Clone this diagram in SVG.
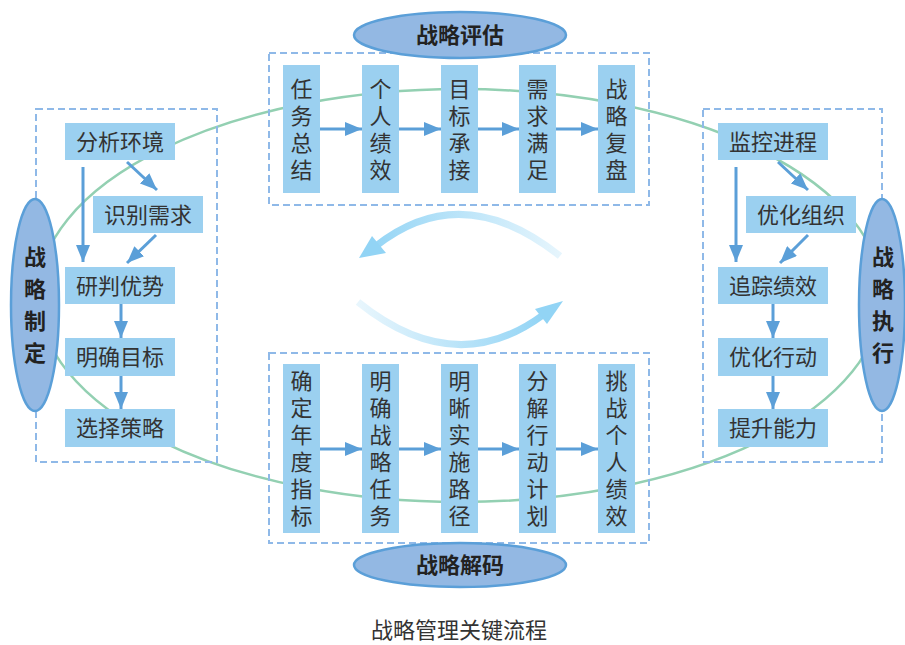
<svg xmlns="http://www.w3.org/2000/svg" width="905" height="645" viewBox="0 0 905 645">
<defs>
<marker id="ah" markerUnits="userSpaceOnUse" markerWidth="18" markerHeight="14" refX="17" refY="7" orient="auto">
<path d="M0,0 L17,7 L0,14 z" fill="#5b9fd8"/>
</marker>
<linearGradient id="gUp" gradientUnits="userSpaceOnUse" x1="365" y1="0" x2="565" y2="0">
<stop offset="0" stop-color="#92d4f5"/><stop offset="1" stop-color="#e8f6fd"/>
</linearGradient>
<linearGradient id="gDn" gradientUnits="userSpaceOnUse" x1="358" y1="0" x2="545" y2="0">
<stop offset="0" stop-color="#e8f6fd"/><stop offset="1" stop-color="#92d4f5"/>
</linearGradient>
<style>
.dash{fill:none;stroke:#8fb9e8;stroke-width:2;stroke-dasharray:7 4}
.box{fill:#9bd0f0}
.t{font-family:"Noto Sans CJK SC","Noto Sans CJK JP",sans-serif;font-size:22px;fill:#333;text-anchor:middle}
.v{font-family:"Noto Sans CJK SC","Noto Sans CJK JP",sans-serif;font-size:22px;fill:#333;text-anchor:middle;writing-mode:vertical-rl;letter-spacing:5px}
.el{fill:#93b8e3;stroke:#5b9fd8;stroke-width:2.5}
.et{font-family:"Noto Sans CJK SC","Noto Sans CJK JP",sans-serif;font-size:22px;font-weight:bold;fill:#222;text-anchor:middle}
.ev{font-family:"Noto Sans CJK SC","Noto Sans CJK JP",sans-serif;font-size:22px;font-weight:bold;fill:#222;text-anchor:middle;writing-mode:vertical-rl;letter-spacing:10px}
.ar{stroke:#5b9fd8;stroke-width:3;fill:none;marker-end:url(#ah)}
.cap{font-family:"Noto Sans CJK SC","Noto Sans CJK JP",sans-serif;font-size:22px;fill:#333;text-anchor:middle}
</style>
</defs>
<rect width="905" height="645" fill="#ffffff"/>

<g id="cycle">
<ellipse cx="460" cy="295.5" rx="422" ry="206.5" fill="none" stroke="#93d0b2" stroke-width="2.5"/>
</g>

<g id="frames">
<rect class="dash" x="269" y="53" width="380" height="152"/>
<rect class="dash" x="269" y="353" width="380" height="190"/>
<rect class="dash" x="36" y="109" width="181" height="353"/>
<rect class="dash" x="703" y="109" width="179" height="353"/>
</g>

<g id="center-arrows">
<path d="M560,256 Q462,178 376,246" fill="none" stroke="url(#gUp)" stroke-width="7"/>
<polygon points="359,258 372,236 386,253" fill="#92d4f5"/>
<path d="M358,302 Q455,380 543,315" fill="none" stroke="url(#gDn)" stroke-width="7"/>
<polygon points="563,301 535,309 547,324" fill="#92d4f5"/>
</g>

<g id="connectors">
<line class="ar" x1="320" y1="129" x2="362" y2="129"/>
<line class="ar" x1="398" y1="129" x2="441" y2="129"/>
<line class="ar" x1="478" y1="129" x2="519" y2="129"/>
<line class="ar" x1="556" y1="129" x2="598" y2="129"/>
<line class="ar" x1="320" y1="449" x2="362" y2="449"/>
<line class="ar" x1="398" y1="449" x2="441" y2="449"/>
<line class="ar" x1="478" y1="449" x2="519" y2="449"/>
<line class="ar" x1="556" y1="449" x2="598" y2="449"/>
<line class="ar" x1="83" y1="167" x2="83" y2="262"/>
<line class="ar" x1="127" y1="162" x2="157" y2="190"/>
<line class="ar" x1="156" y1="235" x2="127" y2="263"/>
<line class="ar" x1="121" y1="304" x2="121" y2="338"/>
<line class="ar" x1="121" y1="376" x2="121" y2="409"/>
<line class="ar" x1="736" y1="167" x2="736" y2="262"/>
<line class="ar" x1="778" y1="162" x2="808" y2="190"/>
<line class="ar" x1="808" y1="235" x2="780" y2="263"/>
<line class="ar" x1="773" y1="304" x2="773" y2="338"/>
<line class="ar" x1="773" y1="376" x2="773" y2="409"/>
</g>

<g id="n-fxhj"><rect class="box" x="65" y="123" width="110" height="37"/><text class="t" x="120" y="149.5">分析环境</text></g>
<g id="n-sbxq"><rect class="box" x="93" y="196" width="110" height="37"/><text class="t" x="148" y="222.5">识别需求</text></g>
<g id="n-ypys"><rect class="box" x="65" y="267" width="110" height="37"/><text class="t" x="120" y="293.5">研判优势</text></g>
<g id="n-mqmb"><rect class="box" x="65" y="338" width="110" height="38"/><text class="t" x="120" y="365">明确目标</text></g>
<g id="n-xzcl"><rect class="box" x="65" y="409" width="110" height="38"/><text class="t" x="120" y="436">选择策略</text></g>

<g id="n-jkjc"><rect class="box" x="718" y="123" width="110" height="37"/><text class="t" x="773" y="149.5">监控进程</text></g>
<g id="n-yhzz"><rect class="box" x="746" y="196" width="110" height="37"/><text class="t" x="801" y="222.5">优化组织</text></g>
<g id="n-zzjx"><rect class="box" x="718" y="267" width="110" height="37"/><text class="t" x="773" y="293.5">追踪绩效</text></g>
<g id="n-yhxd"><rect class="box" x="718" y="338" width="110" height="38"/><text class="t" x="773" y="365">优化行动</text></g>
<g id="n-tsnl"><rect class="box" x="718" y="409" width="110" height="38"/><text class="t" x="773" y="436">提升能力</text></g>

<g id="n-rwzj"><rect class="box" x="283" y="65" width="37" height="128"/><text class="v" x="301.5" y="132">任务总结</text></g>
<g id="n-grjx"><rect class="box" x="362" y="65" width="37" height="128"/><text class="v" x="380.5" y="132">个人绩效</text></g>
<g id="n-mbcj"><rect class="box" x="441" y="65" width="37" height="128"/><text class="v" x="459.5" y="132">目标承接</text></g>
<g id="n-xqmz"><rect class="box" x="519" y="65" width="37" height="128"/><text class="v" x="537.5" y="132">需求满足</text></g>
<g id="n-zlfp"><rect class="box" x="598" y="65" width="37" height="128"/><text class="v" x="616.5" y="132">战略复盘</text></g>

<g id="n-qdndzb"><rect class="box" x="283" y="364" width="37" height="169"/><text class="v" x="301.5" y="451">确定年度指标</text></g>
<g id="n-mqzlrw"><rect class="box" x="362" y="364" width="37" height="169"/><text class="v" x="380.5" y="451">明确战略任务</text></g>
<g id="n-mxsslj"><rect class="box" x="441" y="364" width="37" height="169"/><text class="v" x="459.5" y="451">明晰实施路径</text></g>
<g id="n-fjxdjh"><rect class="box" x="519" y="364" width="37" height="169"/><text class="v" x="537.5" y="451">分解行动计划</text></g>
<g id="n-tzgrjx"><rect class="box" x="598" y="364" width="37" height="169"/><text class="v" x="616.5" y="451">挑战个人绩效</text></g>

<g id="n-zlpg"><ellipse class="el" cx="460" cy="35" rx="106" ry="23"/><text class="et" x="460" y="43">战略评估</text></g>
<g id="n-zljm"><ellipse class="el" cx="460" cy="565" rx="106" ry="22"/><text class="et" x="460" y="573">战略解码</text></g>
<g id="n-zlzd"><ellipse class="el" cx="35" cy="305" rx="24" ry="106"/><text class="ev" x="35" y="310">战略制定</text></g>
<g id="n-zlzx"><ellipse class="el" cx="882" cy="305" rx="23" ry="106"/><text class="ev" x="883" y="310">战略执行</text></g>

<text class="cap" x="459" y="638">战略管理关键流程</text>
</svg>
